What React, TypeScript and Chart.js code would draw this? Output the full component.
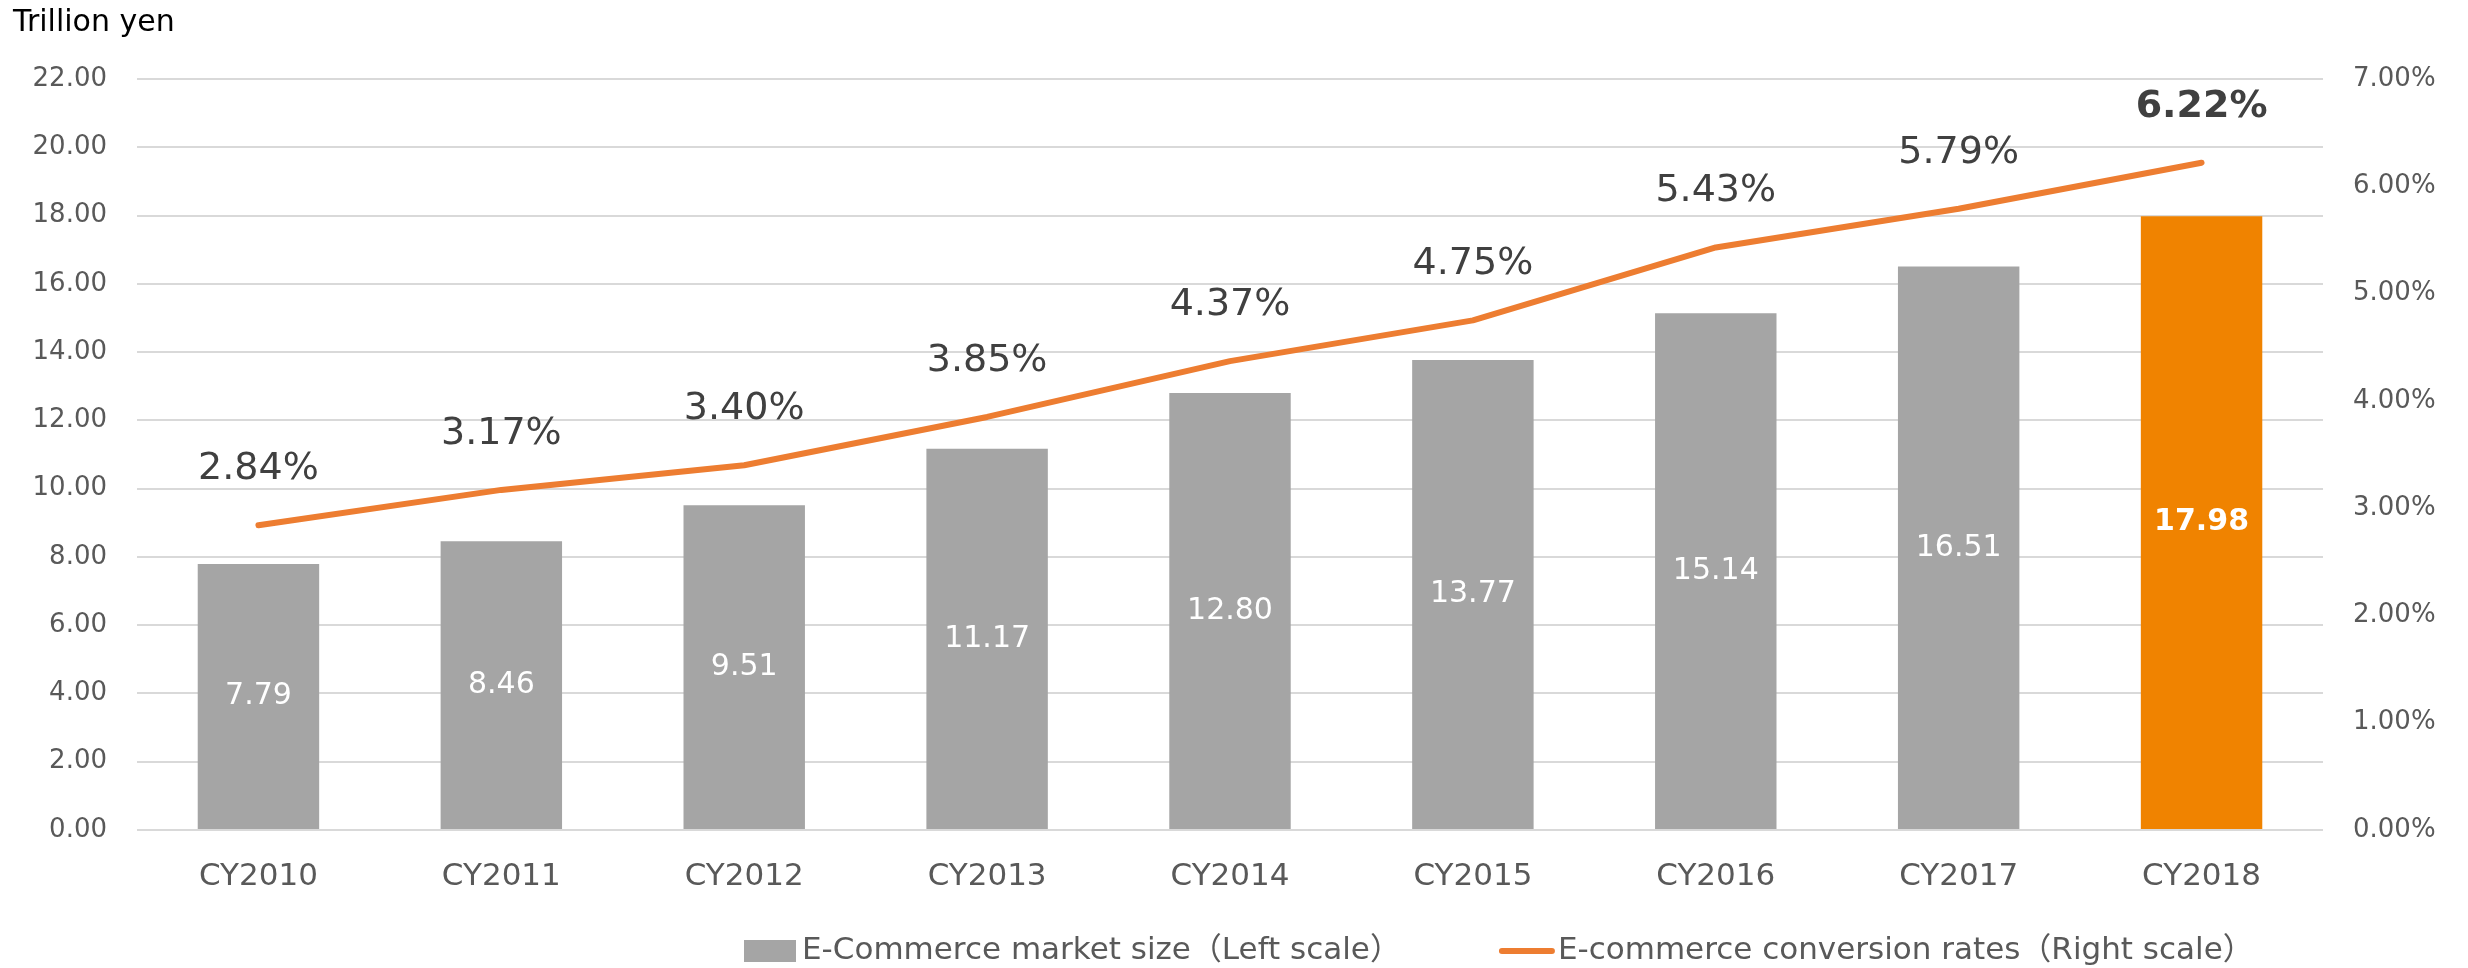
import React, { useEffect, useRef } from "react";
import { Chart, registerables } from "chart.js";

Chart.register(...registerables);

const categories = ["CY2010", "CY2011", "CY2012", "CY2013", "CY2014", "CY2015", "CY2016", "CY2017", "CY2018"];
const marketSize = [7.79, 8.46, 9.51, 11.17, 12.8, 13.77, 15.14, 16.51, 17.98];
const conversionRates = [2.84, 3.17, 3.4, 3.85, 4.37, 4.75, 5.43, 5.79, 6.22];
const seriesLabels = ["E-Commerce market size（Left scale）", "E-commerce conversion rates（Right scale）"];
const leftAxisMax = 22;
const leftAxisStep = 2;
const rightAxisMax = 7;
const rightAxisStep = 1;
const unitLabel = "Trillion yen";
const highlightIndex = 8;

const FONT = '"DejaVu Sans", "Noto Sans CJK JP", Verdana, sans-serif';
const GRAY = "#A5A5A5";
const ORANGE_BAR = "#F08300";
const ORANGE_LINE = "#ED7D31";

const W = 2468;
const H = 968;

const labelPlugin = {
  id: "valueLabels",
  afterDatasetsDraw(chart: any) {
    const ctx = chart.ctx;
    const barMeta = chart.getDatasetMeta(0);
    const lineMeta = chart.getDatasetMeta(1);
    ctx.save();
    ctx.textAlign = "center";
    ctx.textBaseline = "middle";
    barMeta.data.forEach((bar: any, i: number) => {
      const bold = i === highlightIndex;
      ctx.font = `${bold ? "bold " : ""}30px ${FONT}`;
      ctx.fillStyle = "#FFFFFF";
      ctx.fillText(marketSize[i].toFixed(2), bar.x, (bar.y + bar.base) / 2);
    });
    lineMeta.data.forEach((pt: any, i: number) => {
      const bold = i === highlightIndex;
      ctx.font = `${bold ? "bold " : ""}38px ${FONT}`;
      ctx.fillStyle = "#404040";
      ctx.fillText(conversionRates[i].toFixed(2) + "%", pt.x, pt.y - 56);
    });
    ctx.restore();
  },
};

const decorPlugin = {
  id: "decor",
  afterDraw(chart: any) {
    const ctx = chart.ctx;
    ctx.save();
    // unit title
    ctx.font = `30px ${FONT}`;
    ctx.fillStyle = "#000000";
    ctx.textAlign = "left";
    ctx.textBaseline = "middle";
    ctx.fillText(unitLabel, 13, 23);

    // legend
    const cy = 951;
    let x = 744;
    ctx.fillStyle = GRAY;
    ctx.fillRect(x, cy - 11, 52, 22);
    x += 52 + 6;
    ctx.font = `31px ${FONT}`;
    ctx.fillStyle = "#595959";
    ctx.fillText(seriesLabels[0], x, cy);
    x += ctx.measureText(seriesLabels[0]).width + 98;
    ctx.strokeStyle = ORANGE_LINE;
    ctx.lineWidth = 6;
    ctx.lineCap = "round";
    ctx.beginPath();
    ctx.moveTo(x + 3, cy);
    ctx.lineTo(x + 53, cy);
    ctx.stroke();
    x += 59;
    ctx.fillStyle = "#595959";
    ctx.fillText(seriesLabels[1], x, cy);
    ctx.restore();
  },
};

export default function App() {
  const ref = useRef<HTMLCanvasElement | null>(null);

  useEffect(() => {
    document.body.style.margin = "0";
    if (!ref.current) return;
    const chart = new Chart(ref.current, {
      type: "bar",
      data: {
        labels: categories,
        datasets: [
          {
            type: "bar",
            label: seriesLabels[0],
            data: marketSize,
            backgroundColor: marketSize.map((_, i) => (i === highlightIndex ? ORANGE_BAR : GRAY)),
            yAxisID: "y",
            categoryPercentage: 1,
            barPercentage: 0.5,
            order: 2,
          },
          {
            type: "line",
            label: seriesLabels[1],
            data: conversionRates,
            borderColor: ORANGE_LINE,
            backgroundColor: ORANGE_LINE,
            borderWidth: 6,
            borderCapStyle: "round",
            borderJoinStyle: "round",
            pointRadius: 0,
            tension: 0,
            yAxisID: "y1",
            order: 1,
          },
        ],
      } as any,
      options: {
        animation: false,
        responsive: false,
        devicePixelRatio: 1,
        layout: { padding: { top: 79, bottom: 0, left: 0, right: 0 } },
        plugins: {
          legend: { display: false },
          tooltip: { enabled: false },
          title: { display: false },
        },
        scales: {
          x: {
            offset: true,
            grid: { display: false, drawTicks: false },
            border: { display: false },
            ticks: { color: "#595959", font: { family: FONT, size: 31 }, padding: 28, maxRotation: 0 },
            afterFit(scale: any) {
              scale.height = 138;
            },
          },
          y: {
            position: "left",
            min: 0,
            max: leftAxisMax,
            grid: { color: "#D9D9D9", lineWidth: 2, drawTicks: false },
            border: { display: false },
            ticks: {
              stepSize: leftAxisStep,
              color: "#595959",
              font: { family: FONT, size: 26 },
              padding: 30,
              callback: (v: any) => Number(v).toFixed(2),
            },
            afterFit(scale: any) {
              scale.width = 137;
            },
          },
          y1: {
            position: "right",
            min: 0,
            max: rightAxisMax,
            grid: { display: false, drawTicks: false },
            border: { display: false },
            ticks: {
              stepSize: rightAxisStep,
              color: "#595959",
              font: { family: FONT, size: 26 },
              padding: 30,
              callback: (v: any) => Number(v).toFixed(2) + "%",
            },
            afterFit(scale: any) {
              scale.width = 145;
            },
          },
        },
      } as any,
      plugins: [labelPlugin, decorPlugin],
    });
    return () => chart.destroy();
  }, []);

  return (
    <div style={{ position: "absolute", left: 0, top: 0, width: W, height: H, background: "#fff" }}>
      <canvas ref={ref} width={W} height={H} style={{ width: W, height: H, display: "block" }} />
    </div>
  );
}
